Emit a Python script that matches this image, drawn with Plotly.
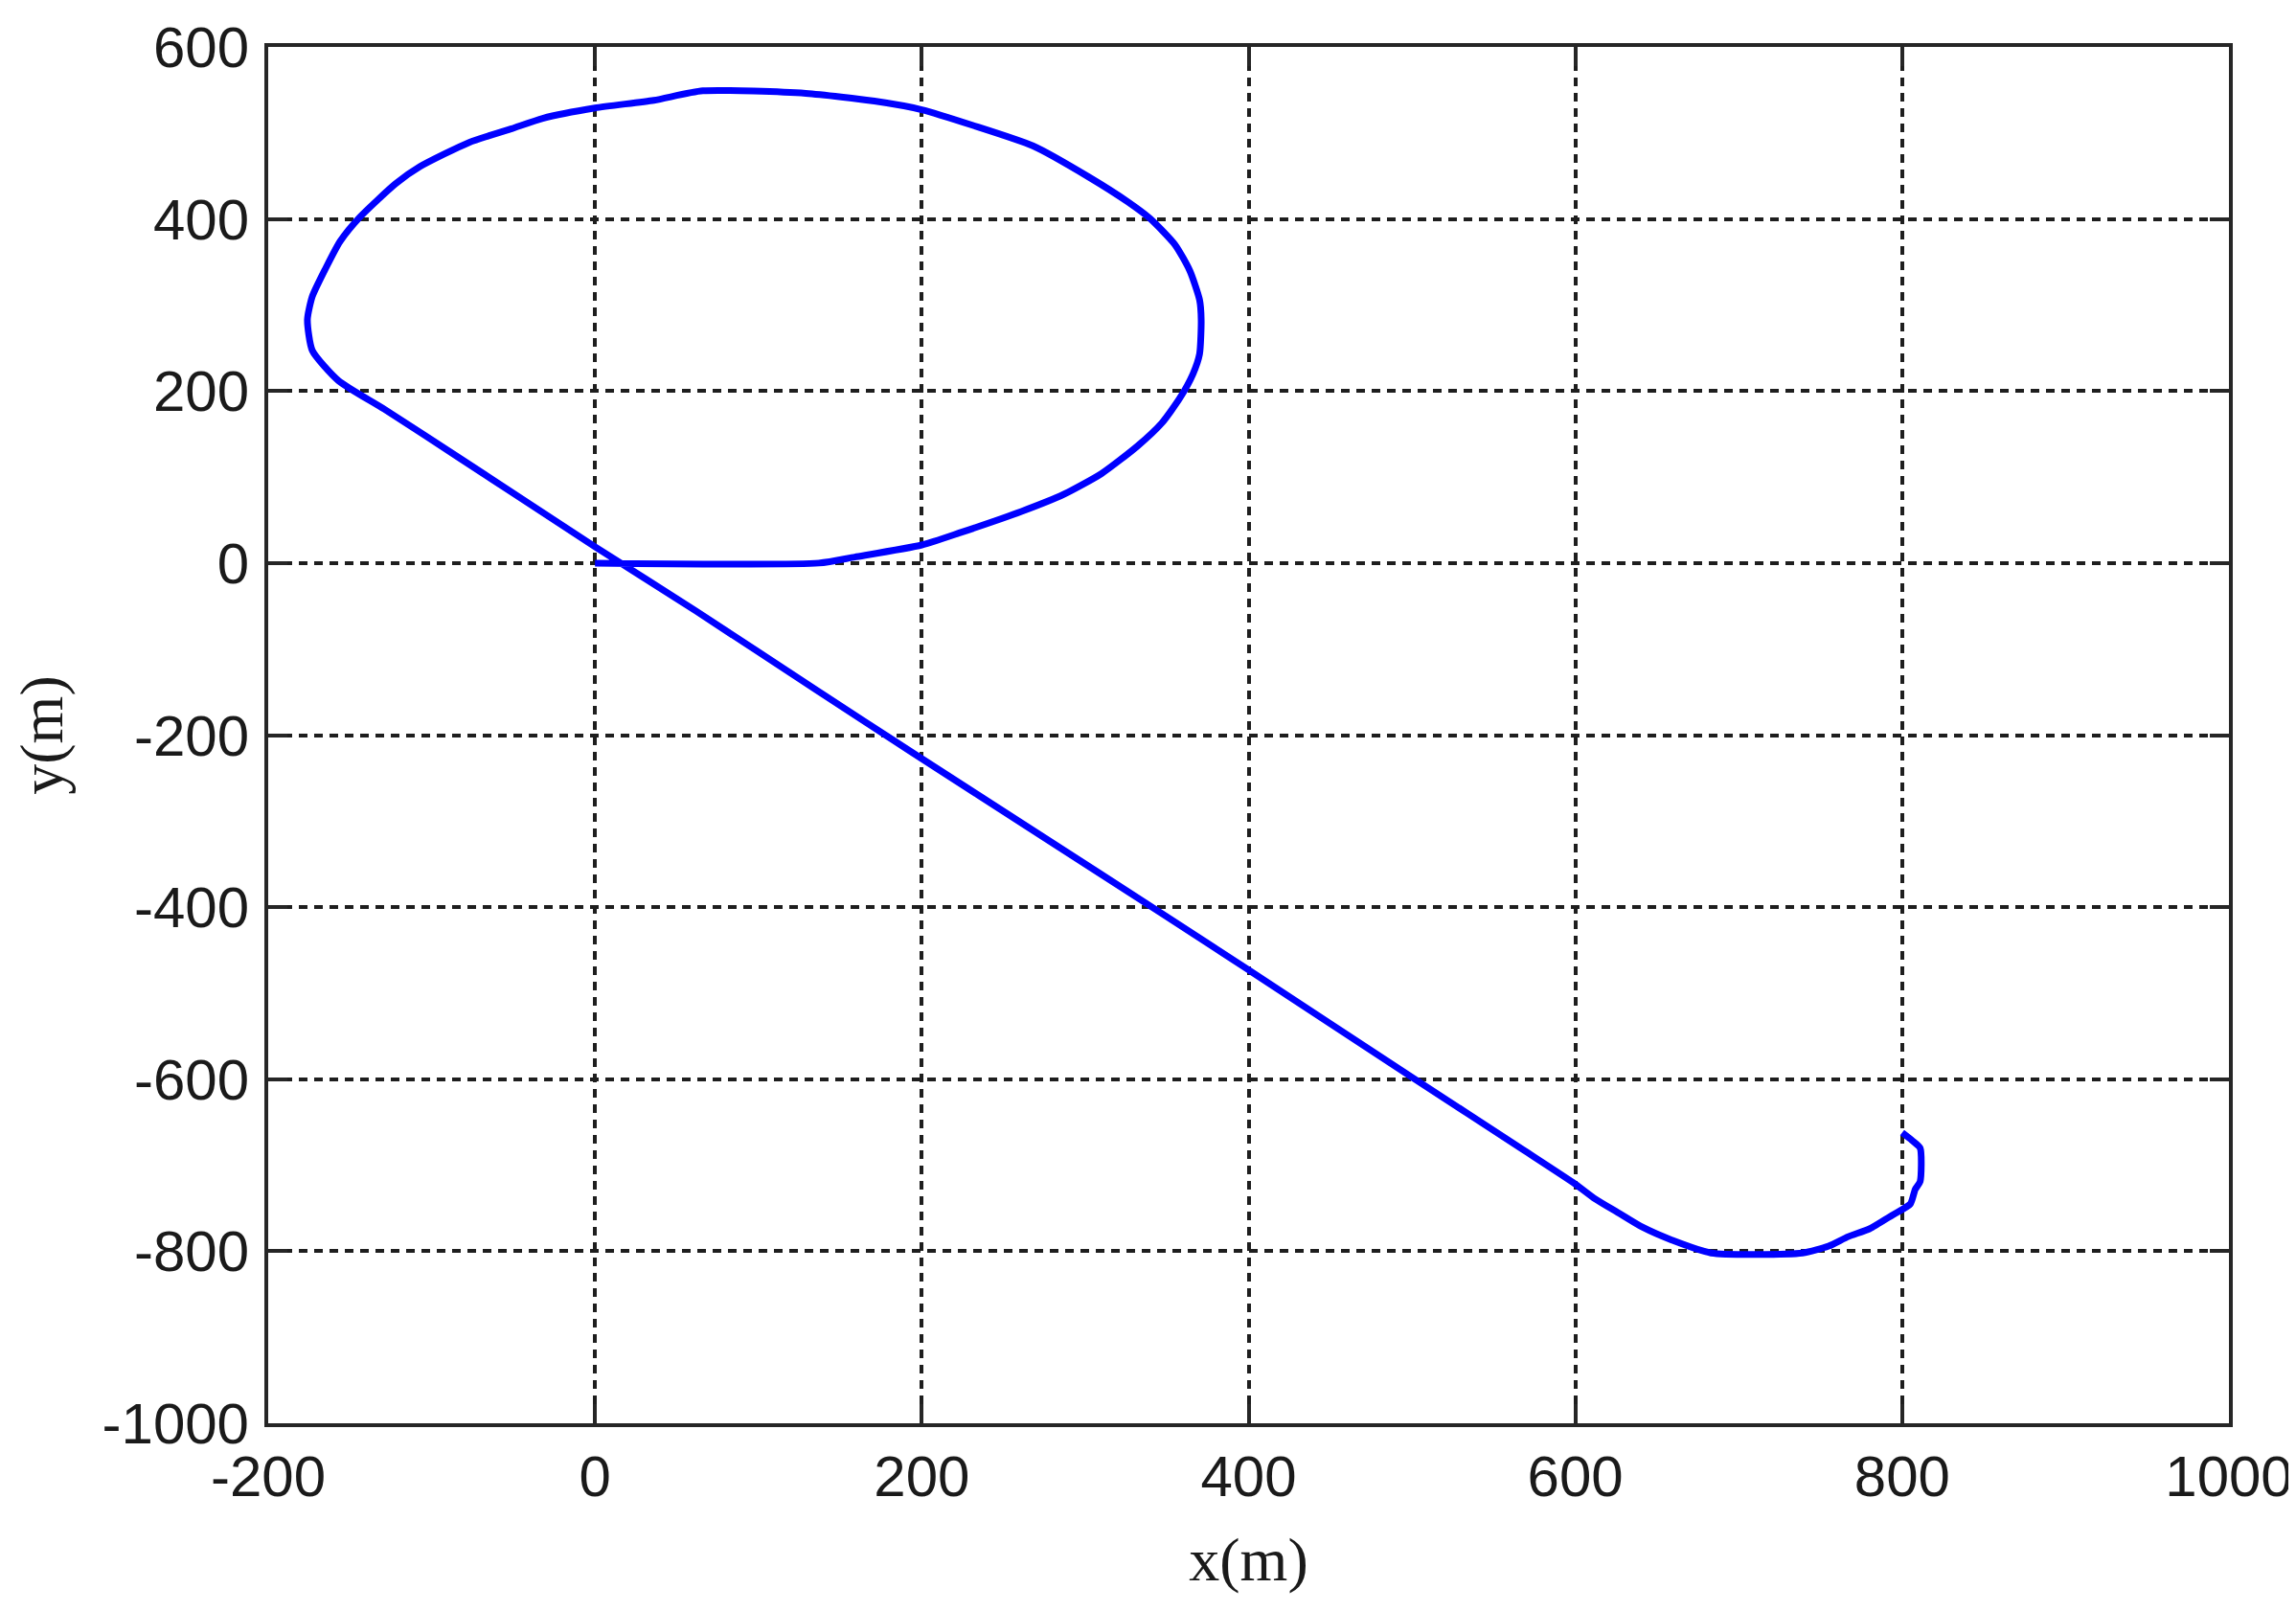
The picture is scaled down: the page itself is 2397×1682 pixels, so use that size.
import plotly.graph_objects as go

# trajectory pieces (metres)
loop_x = [0, 137, 159, 200, 223, 261, 287, 310, 332, 347, 358, 366, 370, 371, 370, 364, 355, 340,
          326, 302, 268, 231, 200, 171, 129, 66, 36, 0, -32, -51, -77, -107, -122, -144, -156,
          -165, -173, -176, -173, -157]
loop_y = [0, 0, 7, 21, 35, 60, 80, 104, 136, 163, 192, 220, 243, 283, 306, 340, 370, 400,
          420, 449, 485, 509, 527, 537, 546, 549, 538, 529, 517, 505, 489, 461, 441, 402, 374,
          342, 310, 283, 247, 212]

leg_x = [-129, -82, 0, 62, 135, 194, 274, 345, 400, 501, 568, 600]
leg_y = [179, 121, 19, -56, -147, -220, -318, -405, -473, -599, -682, -722]

turn_x = [612, 626, 641, 659, 683, 739, 755, 767, 780, 794, 805, 808, 811, 811, 806, 800]
turn_y = [-739, -755, -772, -787, -802, -802, -794, -783, -774, -758, -745, -728, -719,
          -680, -671, -662]

x_ticks = [-200, 0, 200, 400, 600, 800, 1000]
y_ticks = [-1000, -800, -600, -400, -200, 0, 200, 400, 600]

xs = loop_x + leg_x + turn_x
ys = loop_y + leg_y + turn_y

fig = go.Figure()
fig.add_trace(go.Scatter(x=xs, y=ys, mode='lines',
                         line=dict(color='#0000FF', width=7, shape='spline', smoothing=0.6),
                         showlegend=False))

axis_style = dict(showline=True, linecolor='#262626', linewidth=4, mirror='ticks',
                  ticks='inside', ticklen=20, tickwidth=4, tickcolor='#262626',
                  showgrid=True, gridcolor='#1e1e1e', gridwidth=3.5, griddash='9px,7px',
                  zeroline=False, automargin=False,
                  tickfont=dict(family='Liberation Sans, Arial', size=60, color='#1a1a1a'))

fig.update_xaxes(range=[-200, 1000], tickvals=x_ticks, ticktext=[str(v) for v in x_ticks],
                 title=dict(text='x(m)', standoff=32,
                            font=dict(family='Liberation Serif, Times New Roman', size=64, color='#1a1a1a')),
                 ticklabelstandoff=0, **axis_style)
fig.update_yaxes(range=[-1000, 600], tickvals=y_ticks, ticktext=[str(v) for v in y_ticks],
                 title=dict(text='y(m)', standoff=22,
                            font=dict(family='Liberation Serif, Times New Roman', size=64, color='#1a1a1a')),
                 ticklabelstandoff=4, **axis_style)

# page body adds ~8px offset, margins compensate for it
fig.update_layout(width=2397, height=1682,
                  margin=dict(l=272, r=78, t=41, b=204),
                  plot_bgcolor='white', paper_bgcolor='white')

fig.write_html("out.html")
